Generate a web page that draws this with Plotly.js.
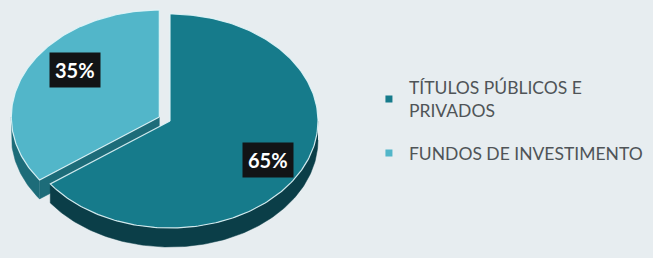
<!DOCTYPE html>
<html>
<head>
<meta charset="utf-8">
<script src="https://cdn.plot.ly/plotly-3.0.1.min.js"></script>
<style>html,body{margin:0;padding:0;background:#e7edf0;}#chart{width:653px;height:258px;}</style>
</head>
<body>
<div id="chart"></div>
<script>
// ---- data ----
const labels = ["TÍTULOS PÚBLICOS E<br>PRIVADOS", "FUNDOS DE INVESTIMENTO"];
const values = [65, 35];
const textLabels = ["65%", "35%"];

// ---- styling / geometry (not data) ----
const topColors = ["#167b8b", "#52b6c9"];
const sideColors = ["#0b3e48", "#1d6c79"];
const cx = 170, cy = 121, rx = 148, ry = 107, depth = 19;
const pulls = [0, 12];
const labelR = [[0.74, 0.80], [0.64, 0.97]];

const total = values.reduce((a, b) => a + b, 0);
function pt(theta, ox, oy, d) {
  const r = theta * Math.PI / 180;
  return [cx + ox + rx * Math.sin(r), cy + oy - ry * Math.cos(r) + (d || 0)];
}
function arc(t0, t1, ox, oy, d) {
  const xs = [], ys = [];
  const n = Math.max(2, Math.ceil(Math.abs(t1 - t0)));
  for (let i = 0; i <= n; i++) {
    const t = t0 + (t1 - t0) * i / n;
    const p = pt(t, ox, oy, d);
    xs.push(p[0]); ys.push(p[1]);
  }
  return [xs, ys];
}

const slices = [];
let acc = 0;
values.forEach((v, i) => {
  const t0 = acc / total * 360, t1 = (acc + v) / total * 360;
  acc += v;
  const mid = (t0 + t1) / 2;
  const mr = mid * Math.PI / 180;
  const ox = pulls[i] * Math.sin(mr), oy = -pulls[i] * Math.cos(mr) * ry / rx;
  slices.push({i, t0, t1, mid, ox, oy});
});

const annotations = [];
const data = [];
// draw order: pulled (back) slice first
const order = slices.slice().sort((a, b) => b.i - a.i);
order.forEach(s => {
  // front radial face (start edge facing viewer)
  if (s.t0 > 180 && s.t0 < 360) {
    const p = pt(s.t0, s.ox, s.oy, 0);
    const a = [cx + s.ox, cy + s.oy];
    data.push({type: "scatter", mode: "lines",
      x: [a[0], p[0], p[0], a[0], a[0]],
      y: [a[1], p[1], p[1] + depth, a[1] + depth, a[1]], fill: "toself",
      fillcolor: sideColors[s.i], line: {color: sideColors[s.i], width: 0.5}, showlegend: false, hoverinfo: "skip"});
  }
  // side wall, visible part of rim between 90 and 270 deg
  const a0 = Math.max(s.t0, 90), a1 = Math.min(s.t1, 270);
  if (a1 > a0) {
    const top = arc(a0, a1, s.ox, s.oy, 0);
    const bot = arc(a1, a0, s.ox, s.oy, depth);
    data.push({type: "scatter", mode: "lines", x: top[0].concat(bot[0]), y: top[1].concat(bot[1]), fill: "toself",
      fillcolor: sideColors[s.i], line: {color: sideColors[s.i], width: 0.5}, showlegend: false, hoverinfo: "skip"});
  }
  const tarc = arc(s.t0, s.t1, s.ox, s.oy, 0);
  data.push({type: "scatter", mode: "lines",
    x: [cx + s.ox].concat(tarc[0], [cx + s.ox]),
    y: [cy + s.oy].concat(tarc[1], [cy + s.oy]),
    fill: "toself", fillcolor: topColors[s.i], line: {color: "rgba(225,245,248,0.9)", width: 1.2},
    showlegend: false, hoverinfo: "skip"});
  const lp = pt(s.mid, s.ox, s.oy, 0);
  annotations.push({x: cx + s.ox + (lp[0] - cx - s.ox) * labelR[s.i][0],
    y: cy + s.oy + (lp[1] - cy - s.oy) * labelR[s.i][1],
    xref: "x", yref: "y", text: "<b>" + textLabels[s.i] + "</b>", showarrow: false,
    bgcolor: "#121416", borderpad: 5,
    font: {family: "Lato, 'Open Sans', sans-serif", size: 20, color: "#ffffff"}});
});

// legend entries
labels.forEach((l, i) => {
  data.push({type: "scatter", mode: "markers", x: [null], y: [null], name: l,
    legendgroup: "g" + i, marker: {symbol: "square", size: 7, color: topColors[i]}});
});

const layout = {
  width: 653, height: 258,
  margin: {l: 0, r: 0, t: 0, b: 0, autoexpand: false},
  paper_bgcolor: "#e7edf0", plot_bgcolor: "#e7edf0",
  xaxis: {range: [0, 653], visible: false, fixedrange: true},
  yaxis: {range: [258, 0], visible: false, fixedrange: true},
  showlegend: true,
  legend: {x: 0.565, y: 0.73, xanchor: "left", yanchor: "top", traceorder: "grouped",
    tracegroupgap: 17, bgcolor: "rgba(0,0,0,0)",
    font: {family: "Lato, 'Open Sans', sans-serif", size: 17.5, color: "#4f5457"}},
  annotations: annotations
};
Plotly.newPlot("chart", data, layout, {displayModeBar: false, staticPlot: true});
</script>
</body>
</html>
